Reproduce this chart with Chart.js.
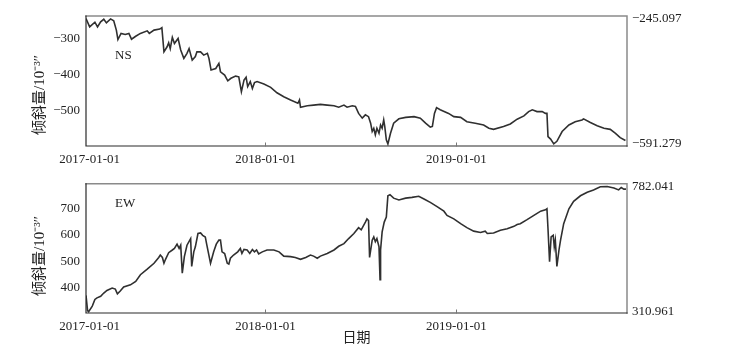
<!DOCTYPE html>
<html>
<head>
<meta charset="utf-8">
<script src="https://cdn.jsdelivr.net/npm/chart.js@4"></script>
<style>
  body { margin: 0; background: #fff; }
  #wrap { position: relative; width: 735px; height: 352px; }
  .panel { position: absolute; left: 0; width: 735px; }
</style>
</head>
<body>
<div id="wrap">
  <div class="panel" style="top:0;height:170px"><canvas id="chart-ns" width="735" height="170"></canvas></div>
  <div class="panel" style="top:170px;height:182px"><canvas id="chart-ew" width="735" height="182"></canvas></div>
</div>
<script>
// x in days counted from 2017-01-01
const xTickDays = [29, 365, 730];
const xTickLabels = ['2017-01-01', '2018-01-01', '2019-01-01'];

const nsTicks = [-300, -400, -500];
const ewTicks = [400, 500, 600, 700];
const nsExtremes = [-245.097, -591.279];
const ewExtremes = [782.041, 310.961];

const nsDays = [22, 29, 39, 44, 50, 56, 61, 69, 75, 80, 83, 89, 97, 104, 109, 117, 126, 139, 143, 152, 163, 167, 171, 177, 180, 183, 187, 191, 198, 203,
  209, 215, 219, 225, 231, 234, 241, 247, 254, 257, 261, 270, 276, 279, 287, 293, 299, 308, 314, 319, 324, 328, 331, 336, 340, 344, 349, 362, 375, 387,
  400, 413, 427, 430, 432, 445, 457, 470, 483, 496, 505, 515, 521, 531, 537, 543, 550, 556, 562, 566, 569, 572, 575, 578, 582, 585, 588, 591, 593, 596,
  599, 604, 610, 620, 633, 649, 661, 671, 680, 684, 688, 692, 699, 715, 725, 738, 750, 766, 782, 792, 801, 820, 833, 846, 859, 868, 875, 884, 894, 900,
  903, 905, 910, 916, 922, 932, 945, 957, 970, 973, 986, 999, 1012, 1024, 1034, 1043, 1053];
const nsValues = [-245.1, -268, -255, -268, -254, -247, -257, -246, -251, -277, -303, -286, -289, -286, -302, -294, -286, -279, -286, -277, -274, -270, -337, -323, -312, -328, -297, -314, -300, -332,
  -355, -341, -328, -360, -350, -337, -337, -346, -341, -355, -387, -383, -369, -392, -401, -417, -410, -404, -406, -447, -415, -407, -433, -419, -438, -422, -419, -426, -435, -450,
  -461, -470, -479, -470, -490, -486, -484, -482, -484, -486, -490, -484, -490, -486, -488, -507, -520, -511, -516, -534, -557, -548, -566, -548, -562, -539, -548, -525, -543, -580,
  -591.3, -562, -534, -522, -518, -516, -520, -534, -545, -543, -507, -491, -497, -507, -516, -518, -530, -534, -539, -548, -551, -543, -536, -523, -514, -502, -497, -502, -502, -507,
  -507, -571, -578, -591, -584, -557, -539, -530, -525, -522, -532, -541, -548, -551, -562, -574, -582];

const ewDays = [22, 25, 27, 34, 39, 43, 50, 56, 62, 72, 78, 82, 87, 94, 107, 117, 126, 139, 152, 161, 164, 168, 171, 174, 180, 187, 191, 196, 200, 203,
  206, 210, 215, 222, 224, 228, 231, 236, 241, 245, 250, 253, 260, 266, 271, 276, 279, 282, 287, 292, 295, 298, 304, 312, 317, 320, 324, 330, 335, 340,
  344, 348, 352, 359, 368, 381, 391, 400, 413, 422, 432, 442, 451, 457, 464, 470, 483, 496, 505, 515, 524, 534, 543, 548, 556, 559, 562, 564, 569, 572,
  575, 578, 582, 584, 585, 588, 592, 596, 599, 603, 610, 620, 633, 645, 658, 668, 680, 693, 706, 712, 725, 738, 750, 763, 776, 785, 789, 801, 814, 827,
  840, 846, 852, 865, 878, 891, 900, 903, 905, 908, 911, 915, 917, 919, 922, 926, 929, 935, 945, 954, 967, 980, 992, 1005, 1018, 1031, 1040, 1045, 1050, 1054];
const ewValues = [372, 315, 311, 332, 357, 363, 369, 381, 391, 400, 396, 378, 388, 404, 412, 425, 450, 471, 493, 515, 524, 515, 493, 508, 533, 543, 549, 565, 549, 561,
  456, 518, 561, 586, 481, 536, 555, 605, 607, 598, 592, 561, 493, 536, 565, 580, 580, 536, 530, 493, 490, 512, 524, 536, 549, 530, 545, 543, 530, 545,
  536, 543, 528, 536, 543, 543, 536, 520, 518, 515, 508, 515, 524, 520, 512, 520, 530, 543, 557, 567, 586, 605, 627, 619, 648, 660, 654, 515, 580, 592,
  574, 586, 555, 431, 543, 611, 648, 667, 747, 751, 738, 731, 738, 741, 745, 735, 722, 706, 689, 673, 660, 642, 627, 614, 609, 614, 605, 607, 617, 623,
  632, 639, 642, 657, 673, 689, 694, 698, 623, 499, 592, 598, 555, 580, 481, 543, 580, 642, 698, 726, 747, 760, 769, 781, 782, 776, 769, 778, 772, 772];

const serif = "'Liberation Serif', 'Times New Roman', serif";
const cjk = "'Liberation Serif', 'Noto Sans CJK SC', serif";
const minus = s => String(s).replace('-', '\u2212');

// frame, inward ticks, panel label and y title
const decor = {
    id: 'decor',
    afterDraw(chart, args, opts) {
        const {ctx, chartArea: a, scales} = chart;
        ctx.save();
        ctx.lineCap = 'square';
        ctx.strokeStyle = '#8a8a8a'; ctx.lineWidth = 1.5;
        ctx.beginPath(); ctx.moveTo(a.left, a.top); ctx.lineTo(a.right, a.top); ctx.lineTo(a.right, a.bottom); ctx.stroke();
        ctx.strokeStyle = '#2a2a2a'; ctx.lineWidth = 1.2;
        ctx.beginPath(); ctx.moveTo(a.left, a.top); ctx.lineTo(a.left, a.bottom); ctx.lineTo(a.right, a.bottom); ctx.stroke();
        ctx.strokeStyle = '#777'; ctx.lineWidth = 1;
        xTickDays.slice(1).forEach(d => {
            const px = Math.round(scales.x.getPixelForValue(d)) + 0.5;
            ctx.beginPath(); ctx.moveTo(px, a.bottom); ctx.lineTo(px, a.bottom - 3); ctx.stroke();
        });
        ctx.fillStyle = '#222';
        ctx.font = '13px ' + serif;
        ctx.textBaseline = 'middle';
        ctx.fillText(opts.label, a.left + 29, opts.labelY);
        ctx.translate(40, opts.titleY);
        ctx.rotate(-Math.PI / 2);
        ctx.textAlign = 'center';
        ctx.font = '15px ' + cjk;
        ctx.fillText('倾斜量/10⁻³″', 0, 0);
        ctx.restore();
    }
};

function makeChart(id, days, values, ticks, extremes, min, max, cfg) {
    const tickFont = { family: serif, size: 13 };
    return new Chart(document.getElementById(id), {
        type: 'line',
        data: { datasets: [{ data: days.map((d, i) => ({ x: d, y: values[i] })), borderColor: '#303030', borderWidth: 1.6, pointRadius: 0, tension: 0 }] },
        options: {
            responsive: false, animation: false,
            layout: { padding: { top: cfg.top, left: 0, right: 0, bottom: 0 } },
            plugins: { legend: { display: false }, tooltip: { enabled: false }, decor: cfg.decor },
            scales: {
                x: {
                    type: 'linear', min: 22, max: 1056,
                    afterFit: s => { s.height = cfg.xh; },
                    afterBuildTicks: s => { s.ticks = xTickDays.map(v => ({ value: v })); },
                    grid: { display: false, drawTicks: false }, border: { display: false },
                    ticks: { autoSkip: false, maxRotation: 0, padding: 6, color: '#222', font: tickFont,
                        callback: (v, i) => xTickLabels[i] },
                    title: cfg.xTitle
                },
                y: {
                    min, max,
                    afterFit: s => { s.width = 86; },
                    afterBuildTicks: s => { s.ticks = ticks.map(v => ({ value: v })); },
                    grid: { display: false, drawTicks: false }, border: { display: false },
                    ticks: { padding: 6, color: '#222', font: tickFont, callback: v => minus(v) }
                },
                y2: {
                    position: 'right', min, max,
                    afterFit: s => { s.width = 108; },
                    afterBuildTicks: s => { s.ticks = extremes.map(v => ({ value: v })); },
                    grid: { display: false, drawTicks: false }, border: { display: false },
                    ticks: { padding: 5, color: '#222', font: tickFont, callback: v => minus(v.toFixed(3)) }
                }
            }
        },
        plugins: [decor]
    });
}

makeChart('chart-ns', nsDays, nsValues, nsTicks, nsExtremes, -597, -238, {
    top: 16, xh: 24,
    decor: { label: 'NS', labelY: 56, titleY: 95 },
    xTitle: { display: false }
});
makeChart('chart-ew', ewDays, ewValues, ewTicks, ewExtremes, 306, 792, {
    top: 13, xh: 39,
    decor: { label: 'EW', labelY: 34, titleY: 86 },
    xTitle: { display: true, text: '日期', color: '#222', font: { family: cjk, size: 14 }, padding: { top: 0, bottom: 5 } }
});
</script>
</body>
</html>
